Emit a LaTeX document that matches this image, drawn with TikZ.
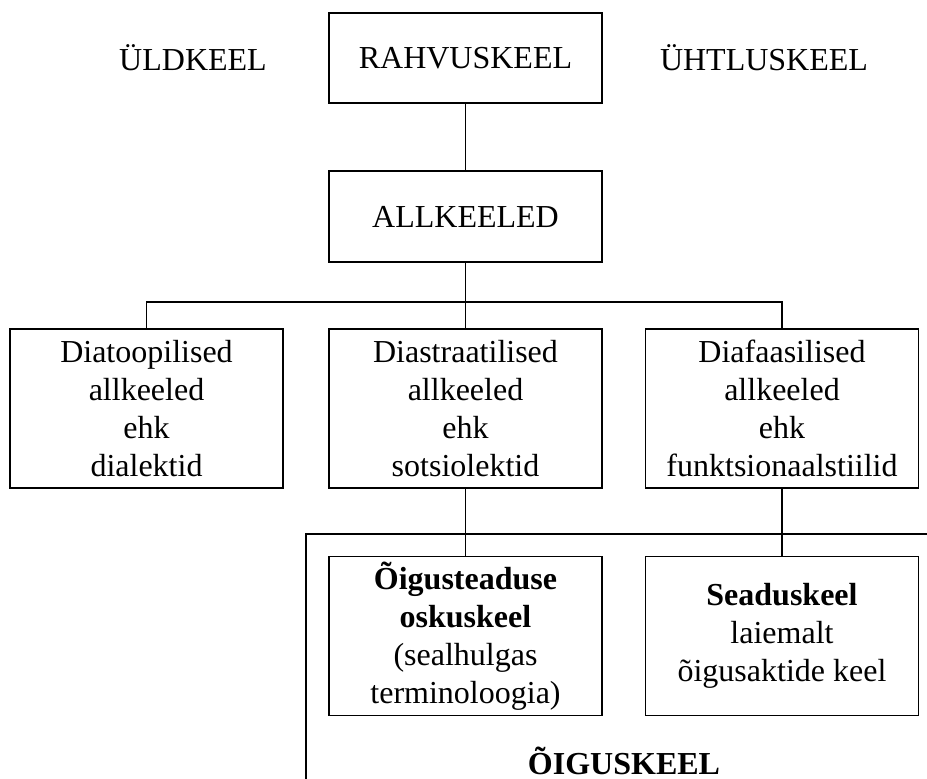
\documentclass[tikz,border=0pt]{standalone}
\usepackage{fontspec}
\setmainfont{Liberation Serif}
\begin{document}
\begin{tikzpicture}[x=0.5pt,y=-0.5pt,line width=0.9pt,
  txt/.style={font=\fontsize{16}{19}\selectfont, align=center, inner sep=0pt},
  box/.style={txt, draw, line width=0.9pt, minimum width=136.5pt},
  smallbox/.style={box, minimum height=45pt},
  tallbox/.style={box, minimum height=79.5pt},
  conn/.style={draw, line width=0.9pt}]
\useasboundingbox (0,0) rectangle (927,778);
\clip (0,0) rectangle (927,778);
% top row
\node[txt] (uld) at (193,58) {ÜLDKEEL};
\node[smallbox] (rahv) at (465.5,58) {RAHVUSKEEL};
\node[txt] (uht) at (764,58) {ÜHTLUSKEEL};
% second row
\node[smallbox, minimum height=45.5pt] (all) at (465.5,216.5) {ALLKEELED};
% third row
\node[tallbox] (dtop) at (146.5,408.5) {Diatoopilised\\allkeeled\\ehk\\dialektid};
\node[tallbox] (dstr) at (465.5,408.5) {Diastraatilised\\allkeeled\\ehk\\sotsiolektid};
\node[tallbox] (dfaas) at (782,408.5) {Diafaasilised\\allkeeled\\ehk\\funktsionaalstiilid};
% legal language frame
\coordinate (frTR) at (940,534);
\coordinate (frBL) at (306,790);
\draw[line width=0.9pt] (frTR) -| (frBL);
\node[tallbox] (oig) at (465.5,636) {\textbf{Õigusteaduse}\\\textbf{oskuskeel}\\(sealhulgas\\terminoloogia)};
\node[tallbox] (sead) at (782,636) {\textbf{Seaduskeel}\\laiemalt\\õigusaktide keel};
\node[txt, anchor=base] (oigk) at (624,774) {\textbf{ÕIGUSKEEL}};
% connectors
\coordinate (bus) at (0,302);
\draw[conn] (rahv.south) -- (all.south |- all.north);
\draw[conn] (all.south) -- (dstr.north);
\draw[conn] (dtop.north) |- (dfaas.north |- bus) -- (dfaas.north);
\draw[conn] (dstr.south) -- (oig.north);
\draw[conn] (dfaas.south) -- (sead.north);
\end{tikzpicture}
\end{document}
